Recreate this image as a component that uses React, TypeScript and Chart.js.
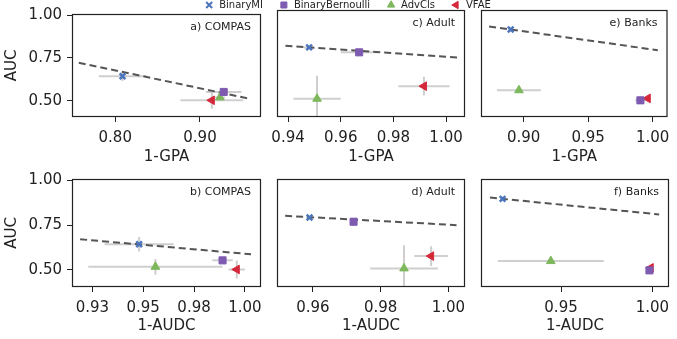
import React, { useEffect, useRef } from 'react';
import { Chart, registerables } from 'chart.js';

Chart.register(...registerables);

// ---------- data ----------
const METHODS = ['BinaryMI', 'BinaryBernoulli', 'AdvCls', 'VFAE'];

const Y_TICKS = [0.5, 0.75, 1.0];
const Y_TICK_LABELS = ['0.50', '0.75', '1.00'];
const Y_MIN = 0.404;
const Y_MAX = 1.008;

// a) COMPAS, 1-GPA
const aX = [0.8086, 0.928, 0.9235, 0.914];
const aY = [0.643, 0.551, 0.519, 0.502];
const aXErr = [0.028, 0.021, 0.006, 0.037];
const aYErr = [0.028, 0.022, 0.02, 0.05];
const aTrendX = [0.757, 0.957];
const aTrendY = [0.722, 0.513];
const aXTicks = [0.8, 0.9];
const aXTickLabels = ['0.80', '0.90'];

// c) Adult, 1-GPA
const cX = [0.948, 0.967, 0.951, 0.9916];
const cY = [0.797, 0.769, 0.507, 0.578];
const cXErr = [0.002, 0.007, 0.009, 0.0097];
const cYErr = [0.008, 0.008, 0.13, 0.053];
const cTrendX = [0.939, 1.0044];
const cTrendY = [0.806, 0.74];
const cXTicks = [0.94, 0.96, 0.98, 1.0];
const cXTickLabels = ['0.94', '0.96', '0.98', '1.00'];

// e) Banks, 1-GPA
const eX = [0.89, 0.9905, 0.8964, 0.9962];
const eY = [0.898, 0.498, 0.555, 0.509];
const eXErr = [0.002, 0.004, 0.017, 0.002];
const eYErr = [0.005, 0.005, 0.012, 0.006];
const eTrendX = [0.8733, 1.004];
const eTrendY = [0.915, 0.781];
const eXTicks = [0.9, 0.95, 1.0];
const eXTickLabels = ['0.90', '0.95', '1.00'];

// b) COMPAS, 1-AUDC
const bX = [0.948, 0.989, 0.956, 0.996];
const bY = [0.643, 0.553, 0.517, 0.502];
const bXErr = [0.017, 0.005, 0.033, 0.004];
const bYErr = [0.04, 0.012, 0.044, 0.05];
const bTrendX = [0.919, 1.003];
const bTrendY = [0.671, 0.587];
const bXTicks = [0.925, 0.95, 0.975, 1.0];
const bXTickLabels = ['0.93', '0.95', '0.98', '1.00'];

// d) Adult, 1-AUDC
const dX = [0.959, 0.972, 0.9869, 0.9949];
const dY = [0.793, 0.769, 0.508, 0.577];
const dXErr = [0.001, 0.001, 0.01, 0.005];
const dYErr = [0.006, 0.006, 0.13, 0.055];
const dTrendX = [0.9518, 1.0024];
const dTrendY = [0.802, 0.75];
const dXTicks = [0.96, 0.98, 1.0];
const dXTickLabels = ['0.96', '0.98', '1.00'];

// f) Banks, 1-AUDC
const fX = [0.918, 0.9984, 0.9444, 0.9991];
const fY = [0.897, 0.497, 0.549, 0.511];
const fXErr = [0.001, 0.001, 0.029, 0.001];
const fYErr = [0.005, 0.005, 0.01, 0.006];
const fTrendX = [0.9111, 1.0037];
const fTrendY = [0.904, 0.81];
const fXTicks = [0.95, 1.0];
const fXTickLabels = ['0.95', '1.00'];

// ---------- styles / layout ----------
const W = 677;
const H = 339;
const FONT = "'DejaVu Sans', sans-serif";
const TEXT = '#222222';
const COLORS = ['#4a75bd', '#7e5bb0', '#7db85c', '#d5283a'];
const STYLES = ['crossRot', 'rect', 'triangle', 'triangle'];
const ROTATIONS = [0, 0, 0, -90];
const RADII = [4, 5, 5, 5];
const ERR_COLOR = '#cfcfcf';

const COLS = [
  { l: 72, r: 261 },
  { l: 277, r: 465 },
  { l: 481, r: 669 },
];
const ROWS = [
  { t: 10, b: 117, xH: 49 },
  { t: 179, b: 287, xH: 48 },
];
const Y_AXIS_W = 69;

type PanelDef = {
  title: string;
  xTitle: string;
  row: number;
  col: number;
  x: number[];
  y: number[];
  xErr: number[];
  yErr: number[];
  trendX: number[];
  trendY: number[];
  xMin: number;
  xMax: number;
  xTicks: number[];
  xTickLabels: string[];
};

const PANELS: PanelDef[] = [
  { title: 'a) COMPAS', xTitle: '1-GPA', row: 0, col: 0, x: aX, y: aY, xErr: aXErr, yErr: aYErr, trendX: aTrendX, trendY: aTrendY, xMin: 0.749, xMax: 0.972, xTicks: aXTicks, xTickLabels: aXTickLabels },
  { title: 'c) Adult', xTitle: '1-GPA', row: 0, col: 1, x: cX, y: cY, xErr: cXErr, yErr: cYErr, trendX: cTrendX, trendY: cTrendY, xMin: 0.9358, xMax: 1.0072, xTicks: cXTicks, xTickLabels: cXTickLabels },
  { title: 'e) Banks', xTitle: '1-GPA', row: 0, col: 2, x: eX, y: eY, xErr: eXErr, yErr: eYErr, trendX: eTrendX, trendY: eTrendY, xMin: 0.867, xMax: 1.0115, xTicks: eXTicks, xTickLabels: eXTickLabels },
  { title: 'b) COMPAS', xTitle: '1-AUDC', row: 1, col: 0, x: bX, y: bY, xErr: bXErr, yErr: bYErr, trendX: bTrendX, trendY: bTrendY, xMin: 0.915, xMax: 1.0079, xTicks: bXTicks, xTickLabels: bXTickLabels },
  { title: 'd) Adult', xTitle: '1-AUDC', row: 1, col: 1, x: dX, y: dY, xErr: dXErr, yErr: dYErr, trendX: dTrendX, trendY: dTrendY, xMin: 0.9494, xMax: 1.0049, xTicks: dXTicks, xTickLabels: dXTickLabels },
  { title: 'f) Banks', xTitle: '1-AUDC', row: 1, col: 2, x: fX, y: fY, xErr: fXErr, yErr: fYErr, trendX: fTrendX, trendY: fTrendY, xMin: 0.9062, xMax: 1.0091, xTicks: fXTicks, xTickLabels: fXTickLabels },
];

function makeConfig(p: PanelDef): any {
  const col = COLS[p.col];
  const row = ROWS[p.row];
  const hasY = p.col === 0;
  const tickGrid = { display: true, drawOnChartArea: false, drawTicks: true, tickLength: 5, color: TEXT, lineWidth: 1 };

  const datasets: any[] = METHODS.map((m, i) => ({
    type: 'scatter',
    label: m,
    data: [{ x: p.x[i], y: p.y[i] }],
    pointStyle: STYLES[i],
    pointRotation: ROTATIONS[i],
    pointRadius: RADII[i],
    backgroundColor: COLORS[i],
    borderColor: COLORS[i],
    borderWidth: i === 0 ? 2.5 : 1,
  }));
  datasets.push({
    type: 'line',
    label: 'trend',
    data: p.trendX.map((v, i) => ({ x: v, y: p.trendY[i] })),
    borderColor: '#555555',
    borderWidth: 2,
    borderDash: [7, 4],
    pointRadius: 0,
    fill: false,
  });

  const panelPlugin = {
    id: 'panelDeco',
    beforeDatasetsDraw(chart: any) {
      const { ctx, chartArea: a, scales } = chart;
      const xs = scales.x;
      const ys = scales.y;
      ctx.save();
      ctx.beginPath();
      ctx.rect(a.left, a.top, a.right - a.left, a.bottom - a.top);
      ctx.clip();
      ctx.strokeStyle = ERR_COLOR;
      ctx.lineWidth = 2;
      for (let i = 0; i < p.x.length; i++) {
        const cx = xs.getPixelForValue(p.x[i]);
        const cy = ys.getPixelForValue(p.y[i]);
        const x0 = xs.getPixelForValue(p.x[i] - p.xErr[i]);
        const x1 = xs.getPixelForValue(p.x[i] + p.xErr[i]);
        const y0 = ys.getPixelForValue(p.y[i] - p.yErr[i]);
        const y1 = ys.getPixelForValue(p.y[i] + p.yErr[i]);
        ctx.beginPath();
        ctx.moveTo(x0, cy);
        ctx.lineTo(x1, cy);
        ctx.moveTo(cx, y0);
        ctx.lineTo(cx, y1);
        ctx.stroke();
      }
      ctx.restore();
    },
    afterDatasetsDraw(chart: any) {
      const { ctx, chartArea: a } = chart;
      ctx.save();
      ctx.strokeStyle = TEXT;
      ctx.lineWidth = 1.2;
      ctx.strokeRect(a.left + 0.5, a.top + 0.5, a.right - a.left - 1, a.bottom - a.top - 1);
      ctx.fillStyle = TEXT;
      ctx.font = `11px ${FONT}`;
      ctx.textAlign = 'right';
      ctx.textBaseline = 'middle';
      ctx.fillText(p.title, a.right - 10, a.top + 13);
      ctx.restore();
    },
  };

  return {
    type: 'scatter',
    data: { datasets },
    plugins: [panelPlugin],
    options: {
      responsive: false,
      animation: false,
      events: [],
      layout: {
        padding: {
          left: hasY ? col.l - Y_AXIS_W : col.l,
          top: row.t,
          right: W - col.r,
          bottom: H - row.b - row.xH,
        },
      },
      scales: {
        x: {
          type: 'linear',
          min: p.xMin,
          max: p.xMax,
          afterBuildTicks: (ax: any) => {
            ax.ticks = p.xTicks.map((v) => ({ value: v }));
          },
          afterFit: (s: any) => {
            s.height = row.xH;
          },
          ticks: {
            autoSkip: false,
            maxRotation: 0,
            padding: 7,
            color: TEXT,
            font: { family: FONT, size: 15 },
            callback: (_v: any, i: number) => p.xTickLabels[i],
          },
          grid: tickGrid,
          border: { display: false },
          title: { display: true, text: p.xTitle, color: TEXT, font: { family: FONT, size: 15 }, padding: 0 },
        },
        y: hasY
          ? {
              type: 'linear',
              min: Y_MIN,
              max: Y_MAX,
              afterBuildTicks: (ax: any) => {
                ax.ticks = Y_TICKS.map((v) => ({ value: v }));
              },
              afterFit: (s: any) => {
                s.width = Y_AXIS_W;
              },
              ticks: {
                autoSkip: false,
                padding: 5,
                color: TEXT,
                font: { family: FONT, size: 15 },
                callback: (_v: any, i: number) => Y_TICK_LABELS[i],
              },
              grid: tickGrid,
              border: { display: false },
              title: { display: true, text: 'AUC', color: TEXT, font: { family: FONT, size: 15 }, padding: 0 },
            }
          : { type: 'linear', display: false, min: Y_MIN, max: Y_MAX },
      },
      plugins: {
        legend: { display: false },
        tooltip: { enabled: false },
      },
    },
  };
}

function Panel({ p }: { p: PanelDef }) {
  const ref = useRef<HTMLCanvasElement>(null);
  useEffect(() => {
    if (!ref.current) return;
    const chart = new Chart(ref.current, makeConfig(p));
    return () => chart.destroy();
  }, [p]);
  return <canvas ref={ref} width={W} height={H} style={{ position: 'absolute', left: 0, top: 0, width: W, height: H }} />;
}

function LegendChart() {
  const ref = useRef<HTMLCanvasElement>(null);
  useEffect(() => {
    if (!ref.current) return;
    const chart = new Chart(ref.current, {
      type: 'scatter',
      data: {
        datasets: METHODS.map((m, i) => ({
          label: m,
          data: [],
          pointStyle: STYLES[i] as any,
          pointRotation: ROTATIONS[i],
          backgroundColor: COLORS[i],
          borderColor: COLORS[i],
          borderWidth: i === 0 ? 2 : 1,
        })),
      },
      options: {
        responsive: false,
        animation: false,
        events: [],
        scales: { x: { display: false }, y: { display: false } },
        plugins: {
          tooltip: { enabled: false },
          legend: {
            display: true,
            position: 'top',
            labels: {
              usePointStyle: true,
              boxWidth: 10,
              boxHeight: 6,
              padding: 16,
              color: TEXT,
              font: { family: FONT, size: 10 },
            },
          },
        },
      },
    } as any);
    return () => chart.destroy();
  }, []);
  return <canvas ref={ref} width={W} height={60} style={{ position: 'absolute', left: 9, top: -16, width: W, height: 60 }} />;
}

export default function App() {
  return (
    <div style={{ position: 'absolute', left: 0, top: 0, width: W, height: H, background: '#ffffff', overflow: 'hidden' }}>
      {PANELS.map((p) => (
        <Panel key={p.title} p={p} />
      ))}
      <LegendChart />
    </div>
  );
}
